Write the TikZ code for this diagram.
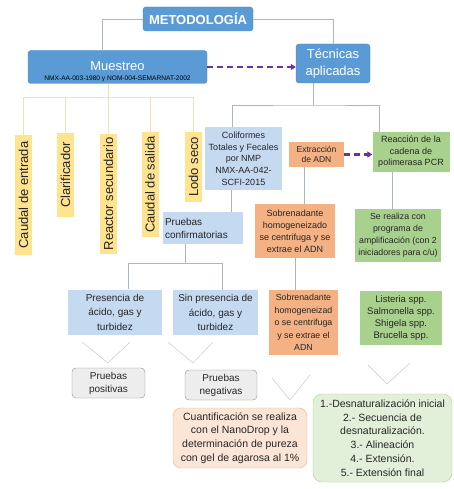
\documentclass[tikz,border=0pt]{standalone}
\usepackage{fontspec}
\setmainfont{Liberation Sans}
\usetikzlibrary{arrows.meta, positioning, calc}
\definecolor{MainBlue}{HTML}{5B9BD5}
\definecolor{MainBorder}{HTML}{4A86BE}
\definecolor{SoftBlue}{HTML}{C5D9F1}
\definecolor{SampleYellow}{HTML}{FFE38F}
\definecolor{DnaOrange}{HTML}{F4B183}
\definecolor{PcrGreen}{HTML}{A9D18E}
\definecolor{ResultGrey}{HTML}{EDEDED}
\definecolor{ResultBorder}{HTML}{8C8C8C}
\definecolor{PeachBg}{HTML}{FBE5D6}
\definecolor{MintBg}{HTML}{E2F0D9}
\definecolor{ArrowPurple}{HTML}{7030A0}
\definecolor{LinkGrey}{HTML}{A9B6C4}
\definecolor{LinkYellow}{HTML}{F3E3B3}
\definecolor{ChevGrey}{HTML}{C9C9C9}
\definecolor{TextDark}{HTML}{262626}

\begin{document}
\begin{tikzpicture}[x=1pt, y=-1pt,
        base/.style={rectangle, align=center, inner sep=1pt, text=TextDark},
        mainbox/.style={base, draw=MainBorder, fill=MainBlue, rounded corners=3pt, text=white},
        sample/.style={base, fill=SampleYellow, rotate=90, minimum height=17, font=\fontsize{13}{13}\selectfont},
        soft/.style={base, fill=SoftBlue},
        dna/.style={base, fill=DnaOrange},
        pcr/.style={base, fill=PcrGreen},
        result/.style={base, draw=ResultBorder, fill=ResultGrey, rounded corners=4pt, font=\fontsize{10}{13}\selectfont},
        peach/.style={base, draw=DnaOrange, fill=PeachBg, rounded corners=8pt, font=\fontsize{10.5}{13.8}\selectfont},
        mint/.style={base, draw=PcrGreen, fill=MintBg, rounded corners=9pt, font=\fontsize{10.5}{13.7}\selectfont},
        link/.style={draw=LinkGrey, line width=0.6pt},
        ylink/.style={draw=LinkYellow, line width=0.7pt},
        arr/.style={-{Triangle[length=5pt,width=6pt]}, dash pattern=on 6pt off 4pt, line width=2.2pt, ArrowPurple},
        chev/.style={draw=ChevGrey, line width=0.5pt, line join=miter}
      ]
        \useasboundingbox (0,0) rectangle (454,489);

        % Top level
        \node[mainbox, minimum width=110, minimum height=24, font=\fontsize{13}{13}\selectfont\bfseries] (metodo) at (198,19) {METODOLOGÍA};
        \node[mainbox, minimum width=179, minimum height=33, font=\fontsize{13}{13}\selectfont] (muestreo) at (117.5,67) {\raisebox{1.5pt}{Muestreo}};
        \node[base, inner sep=0pt, font=\fontsize{6.6}{7}\selectfont, text=black] (norma) at (117.5,79) {NMX-AA-003-1980 y NOM-004-SEMARNAT-2002};
        \node[mainbox, minimum width=74, minimum height=39, font=\fontsize{13}{16.5}\selectfont] (tecnicas) at (333,63.5) {Técnicas\\aplicadas};

        % Sampling points
        \node[sample, minimum width=120] (entrada) at (23.5,195) {Caudal de entrada};
        \node[sample, minimum width=84] (clarif) at (65.5,175) {Clarificador};
        \node[sample, minimum width=120] (reactor) at (108.5,194) {Reactor secundario};
        \node[sample, minimum width=105] (salida) at (150,184.5) {Caudal de salida};
        \node[sample, minimum width=70] (lodo) at (193.5,167) {Lodo seco};

        % Techniques
        \node[soft, minimum width=77, minimum height=63, font=\fontsize{9}{11.7}\selectfont] (coliformes) at (243.5,158.5) {Coliformes\\Totales y Fecales\\por NMP\\NMX-AA-042-\\SCFI-2015};
        \node[dna, minimum width=55, minimum height=25, font=\fontsize{8.5}{10.5}\selectfont] (extraccion) at (316.5,154.5) {Extracción\\de ADN};
        \node[pcr, minimum width=77, minimum height=40, font=\fontsize{9}{11.5}\selectfont] (cadena) at (411,152) {Reacción de la\\cadena de\\polimerasa PCR};
        \node[soft, text width=76, align=left, inner sep=2pt, minimum height=32, font=\fontsize{10}{13}\selectfont] (confirm) at (203,228) {Pruebas\\confirmatorias};
        \node[dna, minimum width=80, minimum height=54, font=\fontsize{9}{12}\selectfont] (sobre1) at (295,231) {Sobrenadante\\homogeneizado\\se centrifuga y se\\extrae el ADN};
        \node[pcr, minimum width=86, minimum height=53, font=\fontsize{8.8}{12}\selectfont] (programa) at (398,235.5) {Se realiza con\\programa de\\amplificación (con 2\\iniciadores para c/u)};

        % Third level
        \node[soft, minimum width=94, minimum height=45, font=\fontsize{10}{14.5}\selectfont] (presencia) at (115,312) {Presencia de\\ácido, gas y\\turbidez};
        \node[soft, minimum width=85, minimum height=45, font=\fontsize{10}{14.5}\selectfont] (sinpres) at (215.5,312.5) {Sin presencia de\\ácido, gas y\\turbidez};
        \node[dna, minimum width=69, minimum height=65, font=\fontsize{8.8}{12.5}\selectfont] (sobre2) at (303.5,322.5) {Sobrenadante\\homogeneizad\\o se centrifuga\\y se extrae el\\ADN};
        \node[pcr, minimum width=82, minimum height=54, font=\fontsize{9.5}{11.7}\selectfont] (especies) at (401,318) {Listeria spp.\\Salmonella spp.\\Shigela spp.\\Brucella spp.};

        % Results
        \node[result, minimum width=73, minimum height=30] (positivas) at (108.5,383) {Pruebas\\positivas};
        \node[result, minimum width=72, minimum height=30] (negativas) at (221,385) {Pruebas\\negativas};
        \node[peach, minimum width=134, minimum height=60] (cuanti) at (240,438) {Cuantificación se realiza\\con el NanoDrop y la\\determinación de pureza\\con gel de agarosa al 1\%};
        \node[mint, minimum width=139, minimum height=88] (etapas) at (382.5,438) {1.-Desnaturalización inicial\\2.- Secuencia de\\desnaturalización.\\3.- Alineación\\4.- Extensión.\\5.- Extensión final};

        % Connections
        \coordinate (muestreotop) at (102,51);
        \draw[link] (metodo.west) -| (muestreotop);
        \draw[link] (metodo.east) -| (tecnicas.north);
        \draw[arr] (muestreo.east) -- (muestreo.east -| tecnicas.west);
        \draw[arr] (extraccion.east) -- (extraccion.east -| cadena.west);

        \coordinate (ybus) at (108,97);
        \draw[ylink] (muestreo.south -| ybus) -- (ybus);
        \draw[ylink] (entrada.east |- ybus) -- (lodo.east |- ybus);
        \foreach \n in {entrada, clarif, reactor, salida, lodo}
          \draw[ylink] (\n.east |- ybus) -- (\n.east);

        \coordinate (tbus) at (313,105);
        \coordinate (colitop) at ($(coliformes.north)+(-11.5,0)$);
        \coordinate (pcrtop) at ($(cadena.north)+(-32,0)$);
        \draw[link] (tecnicas.south -| tbus) -- (tbus);
        \draw[link] (colitop) |- (tbus) -| (pcrtop);

        \coordinate (colidown) at ($(coliformes.south)+(-12,0)$);
        \draw[link] (colidown) -- (colidown |- confirm.north);
        \coordinate (extdown) at ($(extraccion.south)+(-12,0)$);
        \draw[link] (extdown) -- (extdown |- sobre1.north);
        \coordinate (pcrdown) at ($(cadena.south)+(-19,0)$);
        \draw[link] (pcrdown) -- (pcrdown |- programa.north);

        \coordinate (cbus) at ($(confirm.south)+(-18,19)$);
        \draw[link] (confirm.south -| cbus) -- (cbus);
        \draw[link] ($(presencia.north)+(13,0)$) |- (cbus) -| ($(sinpres.north)+(6.5,0)$);
        \draw[link] (sobre1.south) -- (sobre1.south |- sobre2.north);

        % Down chevrons
        \draw[chev] (82,342) -- (108,363) -- (130,342);
        \draw[chev] (168,342) -- (193,363) -- (213,342);
        \draw[chev] (272,378) -- (290,400) -- (310,375);
        \draw[chev] (368,365) -- (387,384) -- (410,363);
      \end{tikzpicture}
\end{document}
